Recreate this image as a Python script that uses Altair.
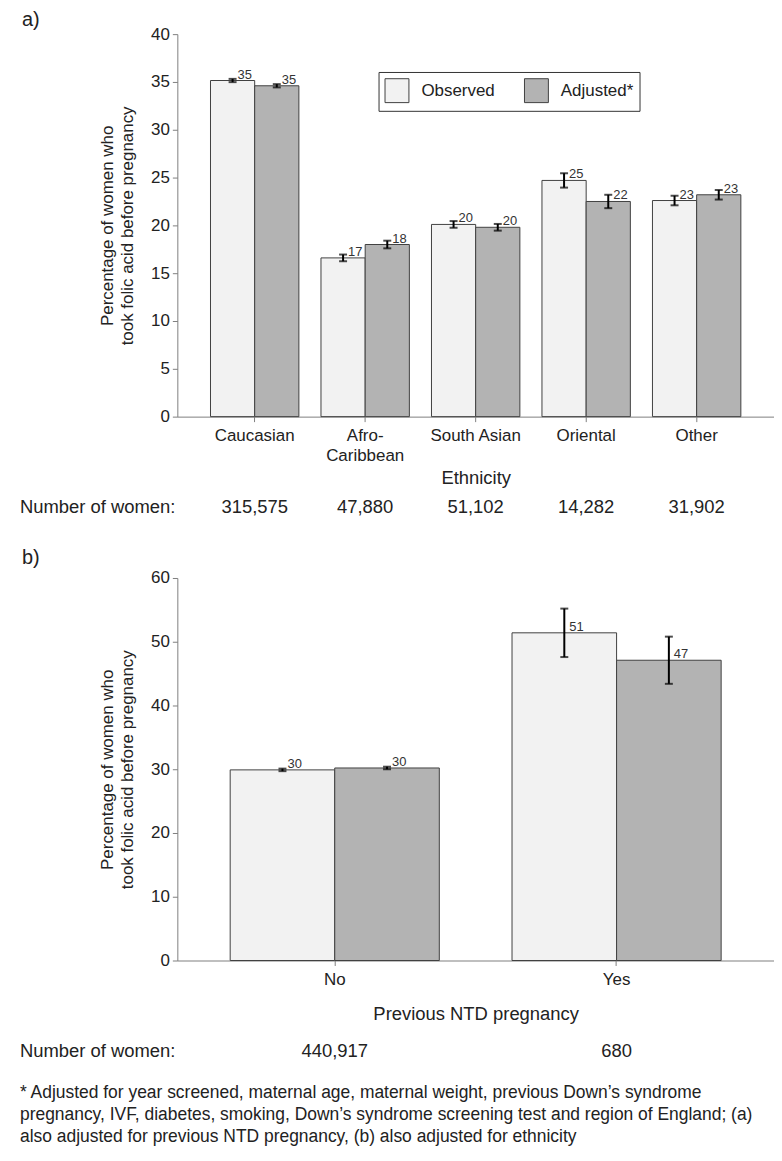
import altair as alt
import pandas as pd

# ---------------- data ----------------
series = ["Observed", "Adjusted*"]
colors = ["#f2f2f2", "#b3b3b3"]

eth = ["Caucasian", "Afro-Caribbean", "South Asian", "Oriental", "Other"]
obs_a = [35.15, 16.6, 20.1, 24.7, 22.6]
obs_a_err = [0.17, 0.35, 0.35, 0.75, 0.5]
adj_a = [34.6, 18.0, 19.8, 22.5, 23.2]
adj_a_err = [0.17, 0.4, 0.35, 0.7, 0.5]
lab_obs_a = ["35", "17", "20", "25", "23"]
lab_adj_a = ["35", "18", "20", "22", "23"]
n_a = ["315,575", "47,880", "51,102", "14,282", "31,902"]

prev = ["No", "Yes"]
obs_b = [29.9, 51.4]
obs_b_err = [0.2, 3.8]
adj_b = [30.2, 47.1]
adj_b_err = [0.2, 3.7]
lab_obs_b = ["30", "51"]
lab_adj_b = ["30", "47"]
n_b = ["440,917", "680"]

ytitle = ["Percentage of women who", "took folic acid before pregnancy"]
footnote = [
    "* Adjusted for year screened, maternal age, maternal weight, previous Down\u2019s syndrome",
    "pregnancy, IVF, diabetes, smoking, Down\u2019s syndrome screening test and region of England;  (a)",
    "also adjusted for previous NTD pregnancy, (b) also adjusted for ethnicity",
]

W, H = 599, 384
FONT = "Liberation Sans"
AX = "#808080"


def build_df(cats, obs, obs_err, adj, adj_err, lo, la):
    rows = []
    for i, c in enumerate(cats):
        for s, v, e, l in ((series[0], obs[i], obs_err[i], lo[i]), (series[1], adj[i], adj_err[i], la[i])):
            rows.append({"cat": c, "series": s, "value": v, "lo": v - e, "hi": v + e, "label": l})
    return pd.DataFrame(rows)


def panel(cats, df, ns, ymax, ystep, pin, pout, xtitle, title_y, tag, tag_y, legend, label_expr="datum.label"):
    xaxis = alt.Axis(labelAngle=0, tickSize=5, labelPadding=6, labelFontSize=17,
                     labelLineHeight=20, labelColor="#222", titleFontSize=18.5,
                     titleFontWeight="normal", titleColor="#222", titleY=title_y,
                     titleBaseline="middle", domainColor=AX, tickColor=AX,
                     labelExpr=label_expr)
    X = alt.X("cat:N", sort=cats, title=xtitle,
              scale=alt.Scale(paddingInner=pin, paddingOuter=pout), axis=xaxis)
    XO = alt.XOffset("series:N", sort=series,
                     scale=alt.Scale(paddingInner=0, paddingOuter=0))

    def Y(field):
        return alt.Y(field, title=ytitle,
                     scale=alt.Scale(domain=[0, ymax], nice=False, zero=True),
                     axis=alt.Axis(values=list(range(0, ymax + 1, ystep)), tickSize=5,
                                   labelPadding=3, labelFontSize=17, labelColor="#222",
                                   titleFontSize=17, titleFontWeight="normal",
                                   titleColor="#222", titleLineHeight=20, titlePadding=14,
                                   domainColor=AX, tickColor=AX, grid=False))

    base = alt.Chart(df)
    bars = base.mark_bar(stroke="#404040", strokeWidth=1, opacity=1).encode(
        x=X, xOffset=XO, y=Y("value:Q"),
        color=alt.Color("series:N", sort=series,
                        scale=alt.Scale(domain=series, range=colors),
                        legend=legend),
    )
    rules = base.mark_rule(color="black", strokeWidth=2).encode(
        x=X, xOffset=XO, y=Y("lo:Q"), y2="hi:Q")
    cap_lo = base.mark_tick(color="black", size=8, thickness=2).encode(
        x=X, xOffset=XO, y=Y("lo:Q"))
    cap_hi = base.mark_tick(color="black", size=8, thickness=2).encode(
        x=X, xOffset=XO, y=Y("hi:Q"))
    labels = base.mark_text(align="left", baseline="alphabetic", dx=5, dy=-2,
                            fontSize=13, color="#333").encode(
        x=X, xOffset=XO, y=Y("value:Q"), text="label:N")

    ndf = pd.DataFrame({"cat": cats, "n": ns})
    nums = alt.Chart(ndf).mark_text(fontSize=18.5, color="#222", baseline="middle").encode(
        x=X, y=alt.value(475), text="n:N")
    nlab = alt.Chart(pd.DataFrame({"t": ["Number of women:"]})).mark_text(
        align="left", baseline="middle", fontSize=18.5, color="#222").encode(
        x=alt.value(-158), y=alt.value(475), text="t:N")
    tagm = alt.Chart(pd.DataFrame({"t": [tag]})).mark_text(
        align="left", baseline="middle", fontSize=20, color="#222").encode(
        x=alt.value(-156), y=alt.value(tag_y), text="t:N")
    layers = [bars, rules, cap_lo, cap_hi, labels, nums, nlab, tagm]
    return layers


df_a = build_df(eth, obs_a, obs_a_err, adj_a, adj_a_err, lab_obs_a, lab_adj_a)
df_b = build_df(prev, obs_b, obs_b_err, adj_b, adj_b_err, lab_obs_b, lab_adj_b)

legend_a = alt.Legend(orient="none", legendX=202, legendY=38, direction="horizontal",
                      title=None, symbolType="square", symbolSize=576,
                      symbolStrokeColor="#404040", symbolStrokeWidth=1, symbolOpacity=1,
                      labelFontSize=17, labelColor="#222", labelOffset=12,
                      columnPadding=27, padding=6, strokeColor="#333",
                      fillColor="white")

layers_a = panel(eth, df_a, n_a, 40, 5, 0.2, 0.3, "Ethnicity", 61, "a)", -14, legend_a,
                 label_expr="datum.label == 'Afro-Caribbean' ? ['Afro-', 'Caribbean'] : datum.label")
layers_b = panel(prev, df_b, n_b, 60, 10, 0.258, 0.1875, "Previous NTD pregnancy", 53, "b)", -20, None)

foot = alt.Chart(pd.DataFrame({"k": [0]})).mark_text(
    align="left", baseline="top", fontSize=17.5, lineHeight=22, color="#222",
    text=footnote).encode(x=alt.value(-158), y=alt.value(508))
layers_b.append(foot)

chart_a = alt.layer(*layers_a).properties(width=W, height=H)
chart_b = alt.layer(*layers_b).properties(width=W, height=H)

chart = (
    alt.vconcat(chart_a, chart_b, spacing=31)
    .resolve_scale(color="independent", x="independent", y="independent", xOffset="independent")
    .properties(padding={"left": 12, "top": 0, "right": 0, "bottom": 0})
    .configure(font=FONT)
    .configure_view(stroke=None)
)

chart.save("out.html", embed_options={"renderer": "svg", "actions": False})
